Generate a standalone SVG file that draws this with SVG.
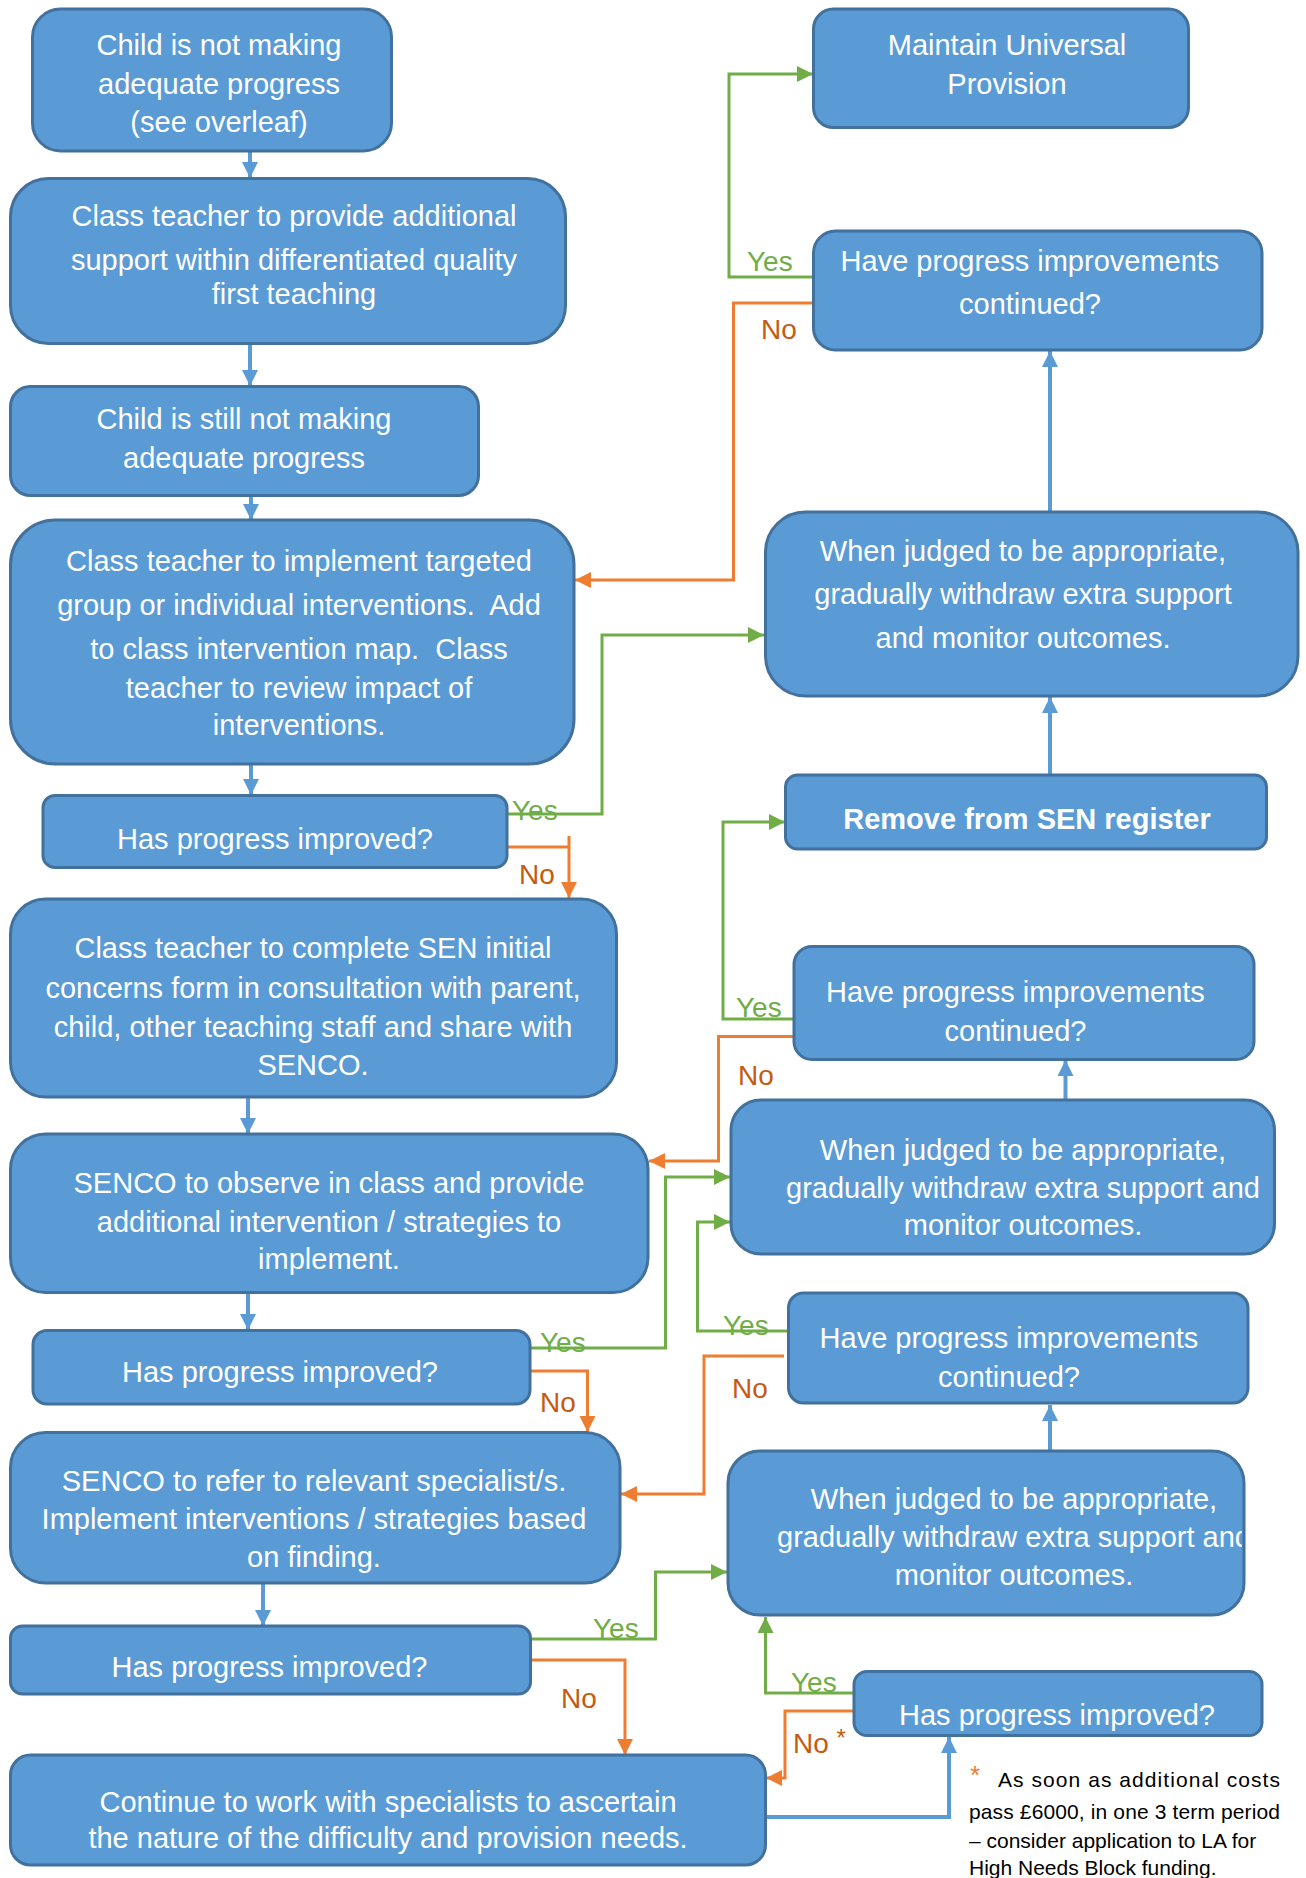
<svg xmlns="http://www.w3.org/2000/svg" width="1306" height="1878" viewBox="0 0 1306 1878">
<style>
.node rect{fill:#5B9BD5;stroke:#41719C;stroke-width:3}
.t{font-family:"Liberation Sans",Arial,sans-serif;font-size:29px;fill:#fff;text-anchor:middle}
.b{font-weight:bold}
.blue{fill:none;stroke:#5B9BD5;stroke-width:4}
.green{fill:none;stroke:#70AD47;stroke-width:3}
.orange{fill:none;stroke:#ED7D31;stroke-width:3}
.yes{font-family:"Liberation Sans",Arial,sans-serif;font-size:28px;fill:#70AD47}
.no{font-family:"Liberation Sans",Arial,sans-serif;font-size:28px;fill:#C55A11}
.fn{font-family:"Liberation Sans",Arial,sans-serif;font-size:21px;fill:#000}
.ast{font-family:"Liberation Sans",Arial,sans-serif;font-size:26px;fill:#ED7D31}
</style>
<defs>
<marker id="ab" markerUnits="userSpaceOnUse" markerWidth="16" markerHeight="16" refX="16" refY="8" orient="auto"><path d="M0,0 L16,8 L0,16 z" fill="#5B9BD5"/></marker>
<marker id="ag" markerUnits="userSpaceOnUse" markerWidth="16" markerHeight="16" refX="16" refY="8" orient="auto"><path d="M0,0 L16,8 L0,16 z" fill="#70AD47"/></marker>
<marker id="ao" markerUnits="userSpaceOnUse" markerWidth="16" markerHeight="16" refX="16" refY="8" orient="auto"><path d="M0,0 L16,8 L0,16 z" fill="#ED7D31"/></marker>
<clipPath id="clipR8"><rect x="728" y="1451" width="514" height="164"/></clipPath>
</defs>

<g id="connectors">
<path class="blue" marker-end="url(#ab)" d="M250,151 V178"/>
<path class="blue" marker-end="url(#ab)" d="M250,344 V386"/>
<path class="blue" marker-end="url(#ab)" d="M251,496 V520"/>
<path class="blue" marker-end="url(#ab)" d="M251,764 V795"/>
<path class="blue" marker-end="url(#ab)" d="M248,1097 V1134"/>
<path class="blue" marker-end="url(#ab)" d="M248,1293 V1330"/>
<path class="blue" marker-end="url(#ab)" d="M263,1583 V1626"/>
<path class="blue" marker-end="url(#ab)" d="M1050,512 V351"/>
<path class="blue" marker-end="url(#ab)" d="M1050,775 V697"/>
<path class="blue" marker-end="url(#ab)" d="M1065.5,1100 V1060"/>
<path class="blue" marker-end="url(#ab)" d="M1050,1451 V1405"/>
<path class="blue" marker-end="url(#ab)" d="M765,1817 H949 V1737"/>

<path class="green" marker-end="url(#ag)" d="M815,277 H729 V74 H813"/>
<path class="green" marker-end="url(#ag)" d="M507,814 H602 V635 H764"/>
<path class="green" marker-end="url(#ag)" d="M794,1019 H723 V822 H785"/>
<path class="green" marker-end="url(#ag)" d="M530,1348 H665.5 V1177 H730"/>
<path class="green" marker-end="url(#ag)" d="M788,1331 H697.5 V1222 H730"/>
<path class="green" marker-end="url(#ag)" d="M530,1639 H655.5 V1572 H727"/>
<path class="green" marker-end="url(#ag)" d="M854,1693 H765.5 V1617"/>

<path class="orange" marker-end="url(#ao)" d="M814,303 H733.5 V580 H575"/>
<path class="orange" marker-end="url(#ao)" d="M507,847 H569 M569,836 V898"/>
<path class="orange" marker-end="url(#ao)" d="M794,1036.5 H718.5 V1161 H649"/>
<path class="orange" marker-end="url(#ao)" d="M530,1371 H587.5 V1432"/>
<path class="orange" marker-end="url(#ao)" d="M784,1356 H704 V1494 H621"/>
<path class="orange" marker-end="url(#ao)" d="M530,1660 H625 V1755"/>
<path class="orange" marker-end="url(#ao)" d="M854,1711 H785 V1778 H766"/>

<text class="yes" x="747" y="271">Yes</text>
<text class="no" x="761" y="339">No</text>
<text class="yes" x="512" y="820">Yes</text>
<text class="no" x="519" y="884">No</text>
<text class="yes" x="736" y="1017">Yes</text>
<text class="no" x="738" y="1085">No</text>
<text class="yes" x="540" y="1352">Yes</text>
<text class="no" x="540" y="1412">No</text>
<text class="yes" x="723" y="1335">Yes</text>
<text class="no" x="732" y="1398">No</text>
<text class="yes" x="593" y="1638">Yes</text>
<text class="no" x="561" y="1708">No</text>
<text class="yes" x="791" y="1692">Yes</text>
<text class="no" x="793" y="1753">No <tspan font-size="24" dy="-7">*</tspan></text>
</g>

<g id="n1" class="node"><rect x="32.5" y="9" width="359" height="142" rx="28"/>
<text class="t" x="219" y="55">Child is not making</text><text class="t" x="219" y="94">adequate progress</text><text class="t" x="219" y="132">(see overleaf)</text></g>

<g id="n2" class="node"><rect x="10.5" y="178.5" width="555" height="165" rx="38"/>
<text class="t" x="294" y="226">Class teacher to provide additional</text><text class="t" x="294" y="270">support within differentiated quality</text><text class="t" x="294" y="304">first teaching</text></g>

<g id="n3" class="node"><rect x="10.5" y="386.5" width="468" height="109" rx="20"/>
<text class="t" x="244" y="429">Child is still not making</text><text class="t" x="244" y="468">adequate progress</text></g>

<g id="n4" class="node"><rect x="10.5" y="520" width="563.5" height="244" rx="45"/>
<text class="t" x="299" y="571">Class teacher to implement targeted</text><text class="t" x="299" y="615">group or individual interventions.&#160; Add</text><text class="t" x="299" y="659">to class intervention map.&#160; Class</text><text class="t" x="299" y="698">teacher to review impact of</text><text class="t" x="299" y="735">interventions.</text></g>

<g id="n5" class="node"><rect x="43" y="795.5" width="464" height="72" rx="12"/>
<text class="t" x="275" y="849">Has progress improved?</text></g>

<g id="n6" class="node"><rect x="10.5" y="899" width="606" height="198" rx="35"/>
<text class="t" x="313" y="958">Class teacher to complete SEN initial</text><text class="t" x="313" y="998">concerns form in consultation with parent,</text><text class="t" x="313" y="1037">child, other teaching staff and share with</text><text class="t" x="313" y="1075">SENCO.</text></g>

<g id="n7" class="node"><rect x="10.5" y="1134" width="637.5" height="158.5" rx="35"/>
<text class="t" x="329" y="1193">SENCO to observe in class and provide</text><text class="t" x="329" y="1232">additional intervention / strategies to</text><text class="t" x="329" y="1269">implement.</text></g>

<g id="n8" class="node"><rect x="33" y="1330.5" width="497" height="73.5" rx="14"/>
<text class="t" x="280" y="1382">Has progress improved?</text></g>

<g id="n9" class="node"><rect x="10.5" y="1432.5" width="609.5" height="150.5" rx="35"/>
<text class="t" x="314" y="1491">SENCO to refer to relevant specialist/s.</text><text class="t" x="314" y="1529">Implement interventions / strategies based</text><text class="t" x="314" y="1567">on finding.</text></g>

<g id="n10" class="node"><rect x="10.5" y="1626" width="520" height="68" rx="12"/>
<text class="t" x="269.5" y="1677">Has progress improved?</text></g>

<g id="n11" class="node"><rect x="10.5" y="1755" width="755" height="110" rx="20"/>
<text class="t" x="388" y="1812">Continue to work with specialists to ascertain</text><text class="t" x="388" y="1848">the nature of the difficulty and provision needs.</text></g>

<g id="r1" class="node"><rect x="813.5" y="9" width="375" height="118.5" rx="20"/>
<text class="t" x="1007" y="55">Maintain Universal</text><text class="t" x="1007" y="94">Provision</text></g>

<g id="r2" class="node"><rect x="813.5" y="231" width="448.5" height="119" rx="22"/>
<text class="t" x="1030" y="271">Have progress improvements</text><text class="t" x="1030" y="314">continued?</text></g>

<g id="r3" class="node"><rect x="765.5" y="512" width="532.5" height="184" rx="40"/>
<text class="t" x="1023" y="561">When judged to be appropriate,</text><text class="t" x="1023" y="604">gradually withdraw extra support</text><text class="t" x="1023" y="648">and monitor outcomes.</text></g>

<g id="r4" class="node"><rect x="785.5" y="775" width="481" height="74" rx="12"/>
<text class="t b" x="1027" y="829">Remove from SEN register</text></g>

<g id="r5" class="node"><rect x="794" y="946.5" width="460" height="113" rx="18"/>
<text class="t" x="1015.5" y="1002">Have progress improvements</text><text class="t" x="1015.5" y="1041">continued?</text></g>

<g id="r6" class="node"><rect x="731" y="1100" width="543.5" height="154" rx="30"/>
<text class="t" x="1023" y="1160">When judged to be appropriate,</text><text class="t" x="1023" y="1198">gradually withdraw extra support and</text><text class="t" x="1023" y="1235">monitor outcomes.</text></g>

<g id="r7" class="node"><rect x="788.5" y="1293" width="459.5" height="110" rx="15"/>
<text class="t" x="1009" y="1348">Have progress improvements</text><text class="t" x="1009" y="1387">continued?</text></g>

<g id="r8" class="node"><rect x="728" y="1451" width="516" height="164" rx="32"/>
<g clip-path="url(#clipR8)"><text class="t" x="1014" y="1509">When judged to be appropriate,</text><text class="t" x="1014" y="1547">gradually withdraw extra support and</text><text class="t" x="1014" y="1585">monitor outcomes.</text></g></g>

<g id="r9" class="node"><rect x="854" y="1671.5" width="408" height="64" rx="13"/>
<text class="t" x="1057" y="1725">Has progress improved?</text></g>

<g id="footnote">
<text class="ast" x="970" y="1784">*</text>
<text class="fn" x="998" y="1787" textLength="282" lengthAdjust="spacing">As soon as additional costs</text>
<text class="fn" x="969" y="1819" textLength="311" lengthAdjust="spacing">pass £6000, in one 3 term period</text>
<text class="fn" x="969" y="1848">– consider application to LA for</text>
<text class="fn" x="969" y="1875">High Needs Block funding.</text>
</g>
</svg>
